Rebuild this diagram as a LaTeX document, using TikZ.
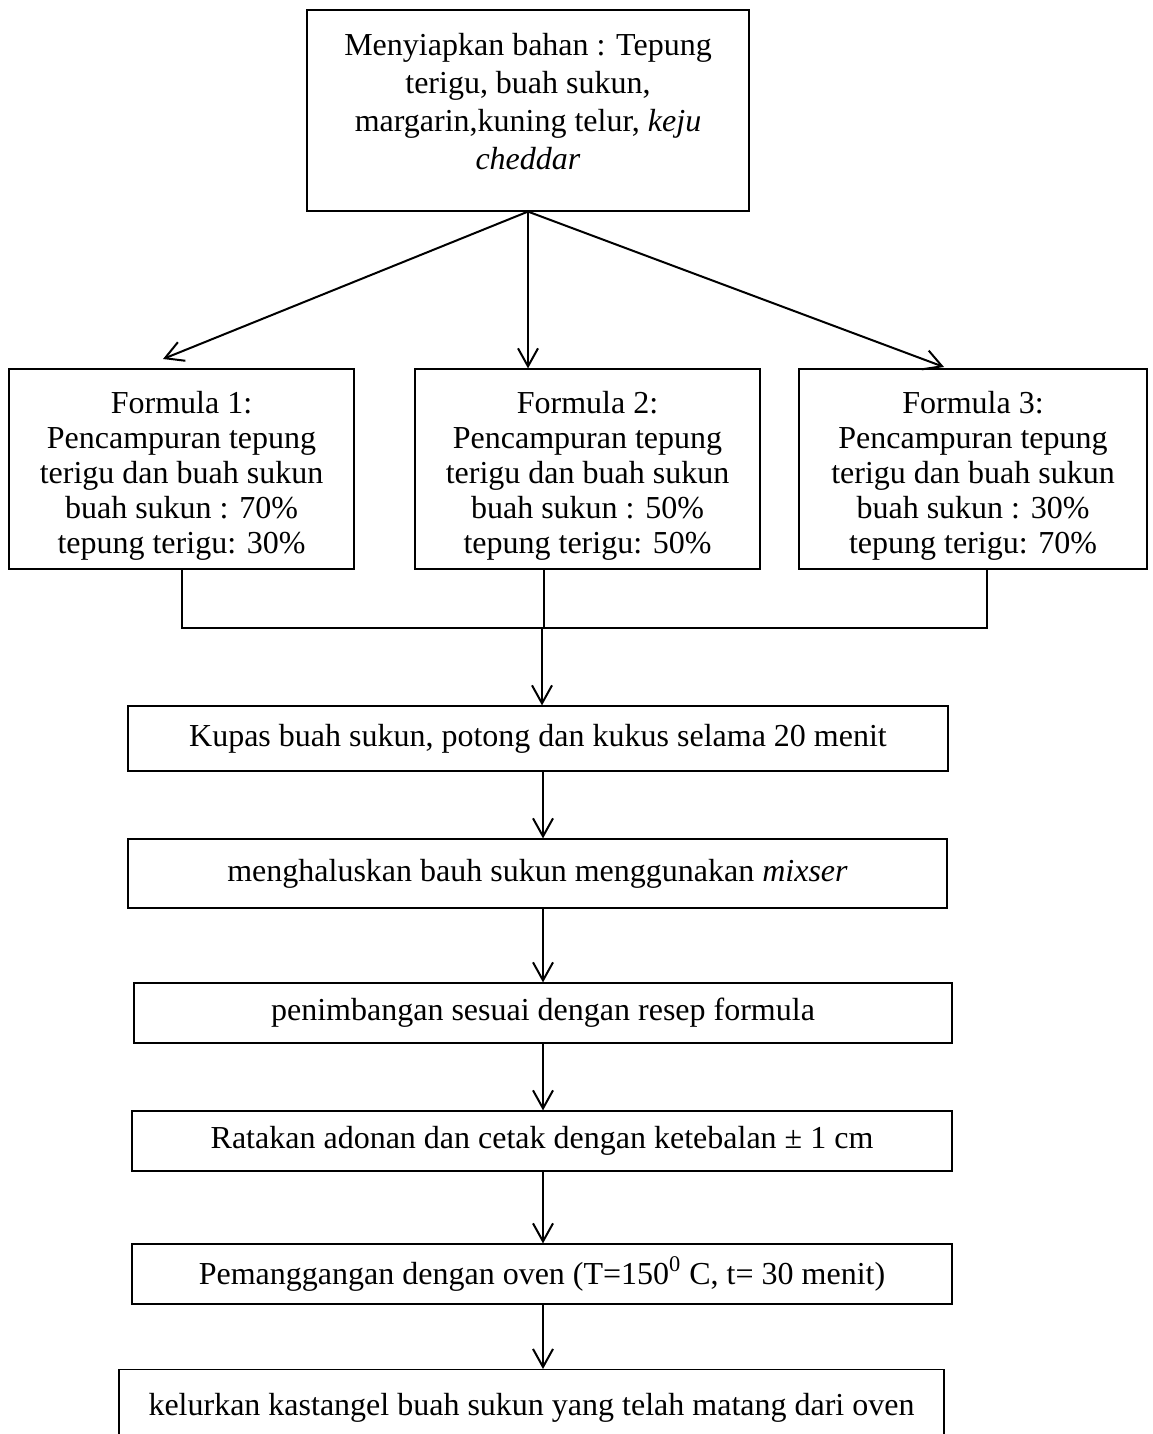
\documentclass[tikz,border=0pt]{standalone}
\usepackage{fontspec}
\setmainfont{Liberation Serif}
\usetikzlibrary{arrows.meta}
\begin{document}
\begin{tikzpicture}[x=0.5pt,y=-0.5pt,
  box/.style={draw=black, line width=0.6pt, inner sep=0pt, font=\fontsize{16}{19}\selectfont},
  toptxt/.style={inner sep=0pt, align=center, anchor=north, font=\fontsize{16}{19}\selectfont},
  ftxt/.style={inner sep=0pt, align=center, anchor=north, font=\fontsize{16}{17.6}\selectfont},
  arr/.style={-{Straight Barb[length=9pt,width=10pt]}, line width=1pt},
  conn/.style={line width=1pt}]
\useasboundingbox (0,0) rectangle (1152,1434);

% top box
\node[box, minimum width=221pt, minimum height=100.5pt] (top) at (528,110.5) {};
\node[toptxt] (toptext) at (528,33) {Menyiapkan bahan : Tepung\\ terigu, buah sukun,\\ margarin,kuning telur, \textit{keju}\\ \textit{cheddar}};

% formula boxes
\node[box, minimum width=172.5pt, minimum height=100pt] (f1) at (181.5,469) {};
\node[ftxt] (f1t) at (181.5,390.5) {Formula 1:\\ Pencampuran tepung\\ terigu dan buah sukun\\ buah sukun : 70\%\\ tepung terigu: 30\%};
\node[box, minimum width=172.5pt, minimum height=100pt] (f2) at (587.5,469) {};
\node[ftxt] (f2t) at (587.5,390.5) {Formula 2:\\ Pencampuran tepung\\ terigu dan buah sukun\\ buah sukun : 50\%\\ tepung terigu: 50\%};
\node[box, minimum width=174pt, minimum height=100pt] (f3) at (973,469) {};
\node[ftxt] (f3t) at (973,390.5) {Formula 3:\\ Pencampuran tepung\\ terigu dan buah sukun\\ buah sukun : 30\%\\ tepung terigu: 70\%};

% process boxes
\node[box, minimum width=410pt, minimum height=32.5pt] (kupas) at (538,738.5) {Kupas buah sukun, potong dan kukus selama 20 menit};
\node[box, minimum width=409.5pt, minimum height=34.5pt] (mengh) at (537.5,873.5) {menghaluskan bauh sukun menggunakan \textit{mixser}};
\node[box, minimum width=409pt, minimum height=30pt] (penim) at (543,1013) {penimbangan sesuai dengan resep formula};
\node[box, minimum width=410pt, minimum height=30pt] (rata) at (542,1141) {Ratakan adonan dan cetak dengan ketebalan ± 1 cm};
\node[box, minimum width=410pt, minimum height=30pt] (panggang) at (542,1274) {Pemanggangan dengan oven (T=150\textsuperscript{0} C, t= 30 menit)};
\node[box, minimum width=412.5pt, anchor=north, inner ysep=12pt, text height=11pt, text depth=60pt] (keluar) at (531.5,1369) {kelurkan kastangel buah sukun yang telah matang dari oven};

% branching arrows
\coordinate (t1) at (163,359);
\coordinate (t3) at (944,367);
\draw[arr] (top.south) -- (t1);
\draw[arr] (top.south) -- (f2.north -| top.south);
\draw[arr] (top.south) -- (t3);

% merging connector
\coordinate (j) at (542,628);
\coordinate (f3x) at (987,0);
\draw[conn] (f1.south) -- (f1.south |- j) -- (f3x |- j) -- (f3x |- f3.south);
\draw[conn] (f2.south -| 544,0) -- (j -| 544,0);
\draw[arr] (j) -- (j |- kupas.north);

% vertical arrows
\coordinate (ax) at (543,0);
\draw[arr] (kupas.south -| ax) -- (mengh.north -| ax);
\draw[arr] (mengh.south -| ax) -- (penim.north -| ax);
\draw[arr] (penim.south -| ax) -- (rata.north -| ax);
\draw[arr] (rata.south -| ax) -- (panggang.north -| ax);
\draw[arr] (panggang.south -| ax) -- (keluar.north -| ax);
\end{tikzpicture}
\end{document}
